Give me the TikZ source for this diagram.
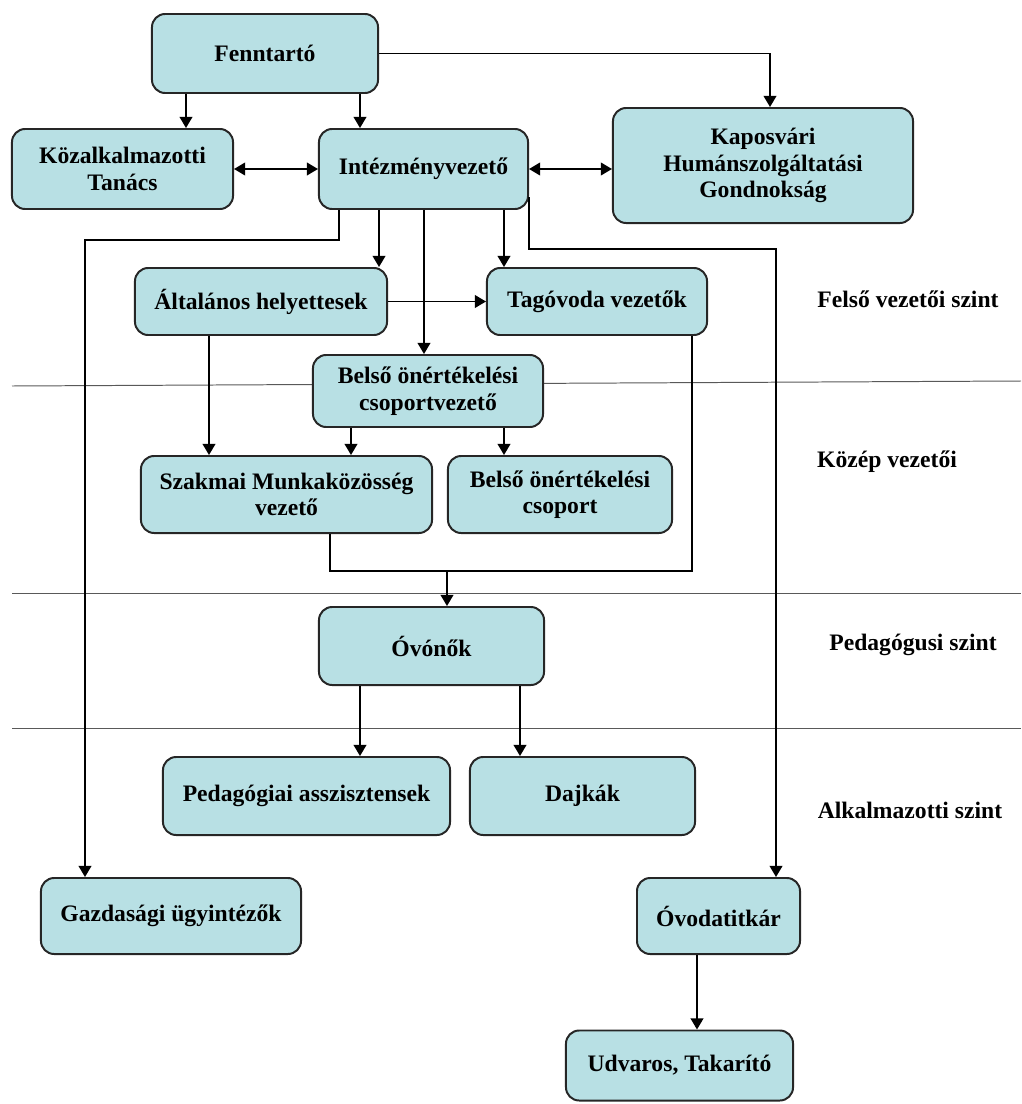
\documentclass[tikz,border=0pt]{standalone}
\usepackage{fontspec}
\setmainfont{Liberation Serif}
\usepackage{xcolor}
\usepackage{tikz}
\usetikzlibrary{arrows.meta}

\definecolor{boxfill}{RGB}{184,224,228}

\begin{document}
\begin{tikzpicture}[
    x=0.025cm, y=-0.025cm,
    box/.style={rectangle, rounded corners=0.33cm, draw=black!85, fill=boxfill, line width=1.4pt, align=center, font=\bfseries\fontsize{16.8}{18.8}\selectfont},
    level/.style={font=\bfseries\fontsize{16.8}{18.8}\selectfont},
    sepline/.style={black!65, line width=0.7pt},
    line/.style={line width=1.2pt},
    arrow/.style={-{Triangle[length=0.28cm, width=0.32cm]}, line width=1.2pt},
    dblarrow/.style={{Triangle[length=0.28cm, width=0.32cm]}-{Triangle[length=0.28cm, width=0.32cm]}, line width=1.2pt}
]
\useasboundingbox (0,0) rectangle (1021,1104);

% szintek elvalasztasa
\draw[sepline] (12,386) -- (1021,381);
\draw[sepline] (12,593) -- (1021,593);
\draw[sepline] (12,728) -- (1021,728);

% felso szint
\node[box, minimum width=5.65cm, minimum height=1.975cm] (fenntarto) at (265,53.5) {Fenntartó};
\node[box, minimum width=5.525cm, minimum height=2cm] (kozalk) at (122.5,169) {Közalkalmazotti\\Tanács};
\node[box, minimum width=5.225cm, minimum height=2cm] (intezmeny) at (423.5,169) {Intézményvezető};
\node[box, minimum width=7.5cm, minimum height=2.875cm] (kaposvari) at (763,165.5) {Kaposvári\\Humánszolgáltatási\\Gondnokság};

\node[box, minimum width=6.3cm, minimum height=1.675cm] (altalanos) at (261,301.5) {Általános helyettesek};
\node[box, minimum width=5.5cm, minimum height=1.675cm] (tagovoda) at (597,301.5) {Tagóvoda vezetők};

% kozep vezetoi szint
\node[box, minimum width=5.75cm, minimum height=1.8cm] (belsovez) at (428,391) {Belső önértékelési\\csoportvezető};
\node[box, minimum width=7.275cm, minimum height=1.925cm] (szakmai) at (286.5,494.5) {Szakmai Munkaközösség\\vezető};
\node[box, minimum width=5.6cm, minimum height=1.925cm] (belsocsop) at (560,494.5) {Belső önértékelési\\csoport};

% pedagogusi szint
\node[box, minimum width=5.625cm, minimum height=1.95cm] (ovonok) at (431.5,646) {Óvónők};

% alkalmazotti szint
\node[box, minimum width=7.175cm, minimum height=1.95cm] (pedasszi) at (306.5,796) {Pedagógiai asszisztensek};
\node[box, minimum width=5.625cm, minimum height=1.95cm] (dajkak) at (582.5,796) {Dajkák};
\node[box, minimum width=6.5cm, minimum height=1.9cm] (gazdasagi) at (171,916) {Gazdasági ügyintézők};
\node[box, minimum width=4.075cm, minimum height=1.9cm] (ovodatitkar) at (718.5,916) {Óvodatitkár};
\node[box, minimum width=5.675cm, minimum height=1.75cm] (udvaros) at (679.5,1065.5) {Udvaros, Takarító};

% szintek nevei
\node[level] (felso) at (908,299) {Felső vezetői szint};
\node[level] (kozep) at (887,462) {Közép vezetői};
\node[level] (pedag) at (913,645) {Pedagógusi szint};
\node[level] (alkalm) at (910,810) {Alkalmazotti szint};

% kapcsolatok
\draw[arrow] ([xshift=0.875cm]fenntarto.south west) -- ([xshift=0.875cm]fenntarto.south west |- kozalk.north);
\draw[arrow] ([xshift=1.05cm]intezmeny.north west |- fenntarto.south) -- ([xshift=1.05cm]intezmeny.north west);
\draw[arrow] (fenntarto.east) -| ([xshift=0.175cm]kaposvari.north);
\draw[dblarrow] (kozalk.east) -- (intezmeny.west);
\draw[dblarrow] (intezmeny.east) -- (intezmeny.east -| kaposvari.west);

\draw[arrow] ([xshift=0.525cm]intezmeny.south west) -- ++(0,-0.75cm) -| ([xshift=1.125cm]gazdasagi.north west);
\draw[arrow] ([xshift=-0.225cm]altalanos.north east |- intezmeny.south) -- ([xshift=-0.225cm]altalanos.north east);
\draw[arrow] ([xshift=-0.1cm]belsovez.north |- intezmeny.south) -- ([xshift=-0.1cm]belsovez.north);
\draw[arrow] ([xshift=0.45cm]tagovoda.north west |- intezmeny.south) -- ([xshift=0.45cm]tagovoda.north west);
\draw[arrow] ([yshift=0.33cm]intezmeny.south east) -- ++(0,-1.305cm) -| ([xshift=1.4375cm]ovodatitkar.north);

\draw[arrow] (altalanos.east) -- (tagovoda.west);
\draw[arrow] ([xshift=1.875cm]altalanos.south west) -- ([xshift=1.875cm]altalanos.south west |- szakmai.north);
\draw[arrow] ([xshift=-2.05cm]szakmai.north east |- belsovez.south) -- ([xshift=-2.05cm]szakmai.north east);
\draw[arrow] ([xshift=1.425cm]belsocsop.north west |- belsovez.south) -- ([xshift=1.425cm]belsocsop.north west);

% ovonokhoz
\coordinate (merge) at ([xshift=0.3875cm, yshift=0.875cm]ovonok.north);
\draw[line] ([xshift=-0.4cm]tagovoda.south east) |- (merge);
\draw[line] ([xshift=-2.575cm]szakmai.south east) |- (merge);
\draw[arrow] (merge) -- ([xshift=0.3875cm]ovonok.north);

\draw[arrow] ([xshift=1.05cm]ovonok.south west) -- ([xshift=1.05cm]ovonok.south west |- pedasszi.north);
\draw[arrow] ([xshift=1.275cm]dajkak.north west |- ovonok.south) -- ([xshift=1.275cm]dajkak.north west);
\draw[arrow] ([xshift=0.4375cm]udvaros.north |- ovodatitkar.south) -- ([xshift=0.4375cm]udvaros.north);

\end{tikzpicture}
\end{document}
